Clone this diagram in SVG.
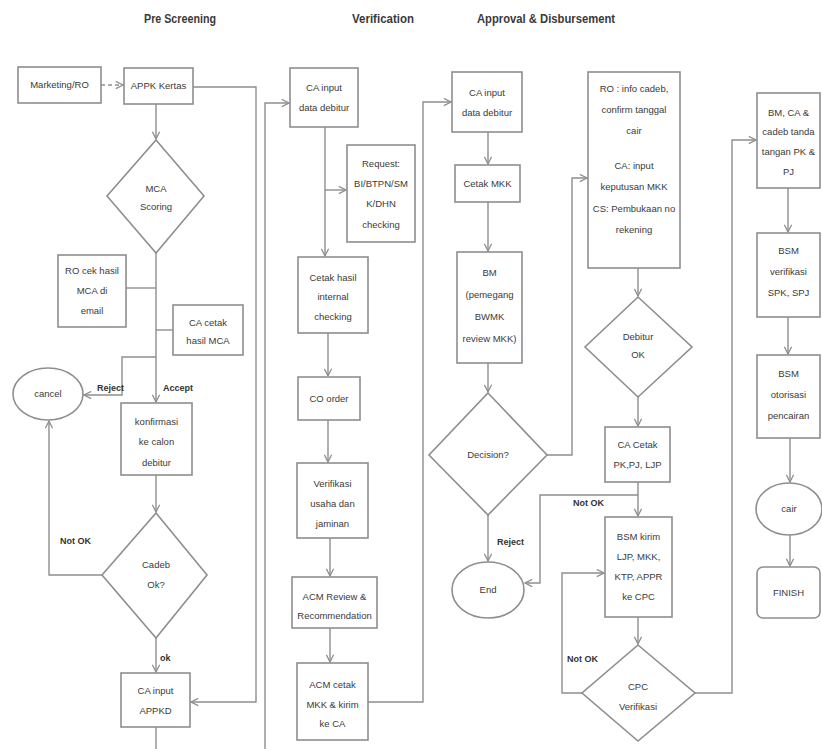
<svg xmlns="http://www.w3.org/2000/svg" width="822" height="749" viewBox="0 0 822 749">
<style>
.box{fill:#fff;stroke:#8e8e8e;stroke-width:1.6}
.t{font-family:"Liberation Sans",Arial,sans-serif;font-size:9.5px;fill:#3a3a3a;text-anchor:middle}
.lb{font-family:"Liberation Sans",Arial,sans-serif;font-size:9px;font-weight:bold;fill:#333}
.title{font-family:"Liberation Sans",Arial,sans-serif;font-size:13px;font-weight:bold;fill:#3a3a3a;text-anchor:middle}
.c{fill:none;stroke:#8e8e8e;stroke-width:1.4}
.d{stroke-dasharray:4 3}
</style>
<defs>
<marker id="ah" viewBox="0 0 10 10" refX="9" refY="5" markerWidth="9" markerHeight="9" orient="auto" markerUnits="userSpaceOnUse">
<path d="M1,1 L9,5 L1,9" fill="none" stroke="#8e8e8e" stroke-width="1.4"/>
</marker>
</defs>
<rect width="822" height="749" fill="#fff"/>
<g id="titles">
<text class="title" x="180" y="23" textLength="72" lengthAdjust="spacingAndGlyphs">Pre Screening</text>
<text class="title" x="383" y="23" textLength="62" lengthAdjust="spacingAndGlyphs">Verification</text>
<text class="title" x="546" y="23" textLength="138" lengthAdjust="spacingAndGlyphs">Approval &amp; Disbursement</text>
</g>
<g id="connectors">
<path class="c d" d="M101,85 H123" marker-end="url(#ah)"/>
<path class="c" d="M156,104 V139" marker-end="url(#ah)"/>
<path class="c" d="M193,87 H256 V702 H191" marker-end="url(#ah)"/>
<path class="c" d="M156,253 V402" marker-end="url(#ah)"/>
<path class="c" d="M126,288 H156"/>
<path class="c" d="M156,330 H173"/>
<path class="c" d="M156,357 H122 V395 H84" marker-end="url(#ah)"/>
<path class="c" d="M156,475 V512" marker-end="url(#ah)"/>
<path class="c" d="M102,575 H49 V421" marker-end="url(#ah)"/>
<path class="c" d="M156,638 V672" marker-end="url(#ah)"/>
<path class="c" d="M156,727 V749"/>
<path class="c" d="M265,749 V103 H289" marker-end="url(#ah)"/>
<path class="c" d="M325,127 V256" marker-end="url(#ah)"/>
<path class="c" d="M325,190 H346" marker-end="url(#ah)"/>
<path class="c" d="M328,333 V376" marker-end="url(#ah)"/>
<path class="c" d="M328,420 V462" marker-end="url(#ah)"/>
<path class="c" d="M330,538 V576" marker-end="url(#ah)"/>
<path class="c" d="M330,628 V662" marker-end="url(#ah)"/>
<path class="c" d="M368,702 H423 V102 H451" marker-end="url(#ah)"/>
<path class="c" d="M488,132 V164" marker-end="url(#ah)"/>
<path class="c" d="M488,202 V251" marker-end="url(#ah)"/>
<path class="c" d="M488,363 V392" marker-end="url(#ah)"/>
<path class="c" d="M547,455 H572 V178 H587" marker-end="url(#ah)"/>
<path class="c" d="M488,515 V561" marker-end="url(#ah)"/>
<path class="c" d="M638,495 H540 V583 H525" marker-end="url(#ah)"/>
<path class="c" d="M638,268 V296" marker-end="url(#ah)"/>
<path class="c" d="M638,397 V426" marker-end="url(#ah)"/>
<path class="c" d="M638,482 V516" marker-end="url(#ah)"/>
<path class="c" d="M638,617 V644" marker-end="url(#ah)"/>
<path class="c" d="M582,693 H562 V573 H604" marker-end="url(#ah)"/>
<path class="c" d="M695,693 H732 V140 H756" marker-end="url(#ah)"/>
<path class="c" d="M788,188 V232" marker-end="url(#ah)"/>
<path class="c" d="M788,317 V354" marker-end="url(#ah)"/>
<path class="c" d="M790,438 V482" marker-end="url(#ah)"/>
<path class="c" d="M790,535 V566" marker-end="url(#ah)"/>
<text class="lb" x="97" y="391">Reject</text>
<text class="lb" x="163" y="391">Accept</text>
<text class="lb" x="60" y="544">Not OK</text>
<text class="lb" x="160" y="661">ok</text>
<text class="lb" x="497" y="545">Reject</text>
<text class="lb" x="573" y="506">Not OK</text>
<text class="lb" x="567" y="662">Not OK</text>
</g>
<g id="marketing"><rect class="box" x="18" y="67" width="83" height="36"/><text class="t" x="59.5" y="88">Marketing/RO</text></g>
<g id="appk"><rect class="box" x="124" y="68" width="69" height="36"/><text class="t" x="158.5" y="89">APPK Kertas</text></g>
<g id="mca"><polygon class="box" points="156,140 204,196 156,253 107,196"/><text class="t" x="156" y="192">MCA</text><text class="t" x="156" y="210">Scoring</text></g>
<g id="ro-cek"><rect class="box" x="58" y="255" width="68" height="72"/><text class="t" x="92" y="274">RO cek hasil</text><text class="t" x="92" y="294">MCA di</text><text class="t" x="92" y="314">email</text></g>
<g id="ca-cetak-mca"><rect class="box" x="173" y="305" width="70" height="50"/><text class="t" x="208" y="326">CA cetak</text><text class="t" x="208" y="344">hasil MCA</text></g>
<g id="cancel"><ellipse class="box" cx="48" cy="394" rx="35" ry="26"/><text class="t" x="48" y="397">cancel</text></g>
<g id="konfirmasi"><rect class="box" x="121" y="403" width="71" height="72"/><text class="t" x="156.5" y="425">konfirmasi</text><text class="t" x="156.5" y="445">ke calon</text><text class="t" x="156.5" y="466">debitur</text></g>
<g id="cadeb"><polygon class="box" points="156,513 207,575 156,638 102,575"/><text class="t" x="156" y="568">Cadeb</text><text class="t" x="156" y="588">Ok?</text></g>
<g id="ca-input-appkd"><rect class="box" x="121" y="673" width="69" height="54"/><text class="t" x="155.5" y="694">CA input</text><text class="t" x="155.5" y="714">APPKD</text></g>
<g id="ca-input-1"><rect class="box" x="290" y="68" width="68" height="59"/><text class="t" x="324" y="91">CA input</text><text class="t" x="324" y="111">data debitur</text></g>
<g id="request"><rect class="box" x="347" y="145" width="68" height="97"/><text class="t" x="381" y="167">Request:</text><text class="t" x="381" y="187">BI/BTPN/SM</text><text class="t" x="381" y="207">K/DHN</text><text class="t" x="381" y="228">checking</text></g>
<g id="cetak-hasil"><rect class="box" x="298" y="257" width="70" height="76"/><text class="t" x="333" y="281">Cetak hasil</text><text class="t" x="333" y="300">internal</text><text class="t" x="333" y="320">checking</text></g>
<g id="co-order"><rect class="box" x="298" y="377" width="62" height="43"/><text class="t" x="329" y="402">CO order</text></g>
<g id="verifikasi"><rect class="box" x="297" y="463" width="71" height="75"/><text class="t" x="332.5" y="487">Verifikasi</text><text class="t" x="332.5" y="507">usaha dan</text><text class="t" x="332.5" y="527">jaminan</text></g>
<g id="acm-review"><rect class="box" x="292" y="577" width="85" height="51"/><text class="t" x="334.5" y="600">ACM Review &amp;</text><text class="t" x="334.5" y="619">Recommendation</text></g>
<g id="acm-cetak"><rect class="box" x="297" y="663" width="71" height="77"/><text class="t" x="332.5" y="688">ACM cetak</text><text class="t" x="332.5" y="708">MKK &amp; kirim</text><text class="t" x="332.5" y="727">ke CA</text></g>
<g id="ca-input-2"><rect class="box" x="452" y="72" width="70" height="60"/><text class="t" x="487" y="96">CA input</text><text class="t" x="487" y="116">data debitur</text></g>
<g id="cetak-mkk"><rect class="box" x="455" y="165" width="65" height="37"/><text class="t" x="487.5" y="187">Cetak MKK</text></g>
<g id="bm-review"><rect class="box" x="457" y="252" width="65" height="111"/><text class="t" x="489.5" y="276">BM</text><text class="t" x="489.5" y="298">(pemegang</text><text class="t" x="489.5" y="320">BWMK</text><text class="t" x="489.5" y="342">review MKK)</text></g>
<g id="decision"><polygon class="box" points="488,393 547,455 488,515 429,455"/><text class="t" x="488" y="458">Decision?</text></g>
<g id="end"><ellipse class="box" cx="488" cy="590" rx="36" ry="28"/><text class="t" x="488" y="593">End</text></g>
<g id="ro-info"><rect class="box" x="588" y="72" width="92" height="196"/><text class="t" x="634" y="92">RO : info cadeb,</text><text class="t" x="634" y="113">confirm tanggal</text><text class="t" x="634" y="134">cair</text><text class="t" x="634" y="169">CA: input</text><text class="t" x="634" y="190">keputusan MKK</text><text class="t" x="634" y="212">CS: Pembukaan no</text><text class="t" x="634" y="233">rekening</text></g>
<g id="debitur-ok"><polygon class="box" points="638,297 692,347 638,397 585,347"/><text class="t" x="638" y="340">Debitur</text><text class="t" x="638" y="358">OK</text></g>
<g id="ca-cetak-pk"><rect class="box" x="605" y="427" width="65" height="55"/><text class="t" x="637.5" y="448">CA Cetak</text><text class="t" x="637.5" y="468">PK,PJ, LJP</text></g>
<g id="bsm-kirim"><rect class="box" x="605" y="517" width="67" height="100"/><text class="t" x="638.5" y="540">BSM kirim</text><text class="t" x="638.5" y="560">LJP, MKK,</text><text class="t" x="638.5" y="580">KTP, APPR</text><text class="t" x="638.5" y="600">ke CPC</text></g>
<g id="cpc"><polygon class="box" points="638,645 695,693 638,741 582,693"/><text class="t" x="638" y="690">CPC</text><text class="t" x="638" y="710">Verifikasi</text></g>
<g id="bm-ttd"><rect class="box" x="757" y="93" width="63" height="95"/><text class="t" x="788.5" y="116">BM, CA &amp;</text><text class="t" x="788.5" y="135">cadeb tanda</text><text class="t" x="788.5" y="155">tangan PK &amp;</text><text class="t" x="788.5" y="175">PJ</text></g>
<g id="bsm-verifikasi"><rect class="box" x="757" y="233" width="63" height="84"/><text class="t" x="788.5" y="254">BSM</text><text class="t" x="788.5" y="275">verifikasi</text><text class="t" x="788.5" y="296">SPK, SPJ</text></g>
<g id="bsm-otorisasi"><rect class="box" x="757" y="355" width="63" height="83"/><text class="t" x="788.5" y="377">BSM</text><text class="t" x="788.5" y="398">otorisasi</text><text class="t" x="788.5" y="419">pencairan</text></g>
<g id="cair"><ellipse class="box" cx="789" cy="509" rx="33" ry="26"/><text class="t" x="789" y="512">cair</text></g>
<g id="finish"><rect class="box" x="757" y="567" width="63" height="51" rx="6"/><text class="t" x="788.5" y="596">FINISH</text></g>
</svg>
